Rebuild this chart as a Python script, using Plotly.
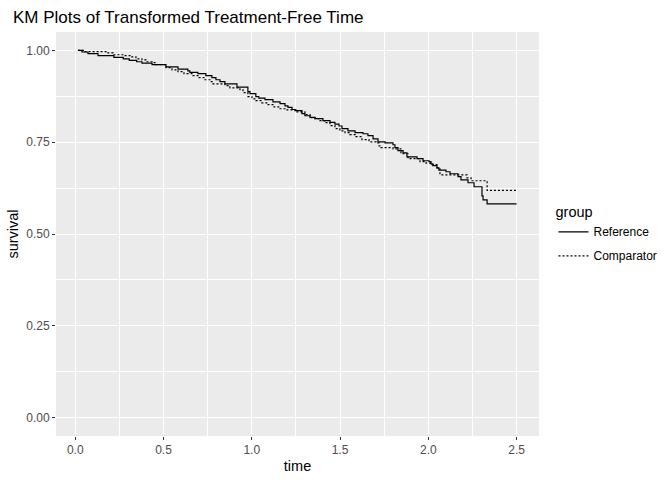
import plotly.graph_objects as go

# Reference group (step curve): time, survival
ref_time = [0.015, 0.038, 0.072, 0.129, 0.219, 0.272, 0.306, 0.348, 0.378, 0.435,
            0.514, 0.582, 0.638, 0.649, 0.695, 0.740, 0.774, 0.797, 0.820, 0.848,
            0.916, 0.978, 0.990, 1.023, 1.040, 1.075, 1.120, 1.160, 1.188, 1.205,
            1.228, 1.245, 1.284, 1.301, 1.330, 1.358, 1.403, 1.443, 1.471, 1.494,
            1.511, 1.545, 1.585, 1.630, 1.658, 1.687, 1.715, 1.755, 1.800, 1.811,
            1.828, 1.857, 1.879, 1.936, 1.970, 2.004, 2.015, 2.026, 2.049, 2.060,
            2.100, 2.123, 2.168, 2.185, 2.225, 2.259, 2.304, 2.310, 2.333, 2.500]
ref_surv = [1.000, 0.9956, 0.991, 0.9856, 0.981, 0.977, 0.973, 0.969, 0.965, 0.961,
            0.955, 0.949, 0.944, 0.940, 0.9365, 0.931, 0.926, 0.920, 0.915, 0.909,
            0.900, 0.8875, 0.882, 0.874, 0.870, 0.866, 0.860, 0.855, 0.849, 0.845,
            0.839, 0.836, 0.8275, 0.822, 0.8174, 0.814, 0.8085, 0.804, 0.799, 0.794,
            0.787, 0.781, 0.776, 0.773, 0.768, 0.759, 0.751, 0.748, 0.743, 0.735,
            0.727, 0.721, 0.710, 0.705, 0.6995, 0.697, 0.691, 0.686, 0.680, 0.674,
            0.6695, 0.664, 0.656, 0.6475, 0.6395, 0.6286, 0.604, 0.593, 0.582, 0.582]

# Comparator group (step curve): time, survival
cmp_time = [0.015, 0.055, 0.180, 0.214, 0.282, 0.310, 0.344, 0.378, 0.401, 0.435,
            0.457, 0.514, 0.548, 0.582, 0.616, 0.661, 0.695, 0.735, 0.763, 0.780,
            0.848, 0.876, 0.933, 0.950, 0.978, 1.001, 1.023, 1.057, 1.092, 1.126,
            1.160, 1.188, 1.250, 1.301, 1.330, 1.358, 1.386, 1.414, 1.443, 1.471,
            1.499, 1.528, 1.556, 1.590, 1.624, 1.664, 1.704, 1.721, 1.732, 1.800,
            1.845, 1.885, 1.953, 1.987, 2.015, 2.049, 2.066, 2.219, 2.242, 2.333, 2.500]
cmp_surv = [1.000, 0.9965, 0.993, 0.988, 0.9856, 0.982, 0.977, 0.974, 0.969, 0.9665,
            0.961, 0.953, 0.947, 0.942, 0.9365, 0.931, 0.9256, 0.920, 0.915, 0.909,
            0.904, 0.898, 0.893, 0.885, 0.874, 0.868, 0.863, 0.857, 0.852, 0.846,
            0.841, 0.838, 0.8325, 0.825, 0.817, 0.814, 0.8085, 0.803, 0.795, 0.787,
            0.781, 0.776, 0.7706, 0.765, 0.757, 0.751, 0.748, 0.740, 0.735, 0.732,
            0.7185, 0.705, 0.697, 0.693, 0.689, 0.680, 0.661, 0.653, 0.645, 0.619, 0.619]

x_ticks = [0.0, 0.5, 1.0, 1.5, 2.0, 2.5]
y_ticks = [0.00, 0.25, 0.50, 0.75, 1.00]

FONT = "Liberation Sans, Arial, sans-serif"

fig = go.Figure()
fig.add_trace(go.Scatter(x=ref_time, y=ref_surv, mode="lines", name="Reference",
                         legendgroup="a",
                         line=dict(color="black", width=1.2, shape="hv")))
fig.add_trace(go.Scatter(x=cmp_time, y=cmp_surv, mode="lines", name="Comparator",
                         legendgroup="b",
                         line=dict(color="black", width=1.2, shape="hv", dash="2px,2px")))

axis_common = dict(
    showgrid=True, gridcolor="white", gridwidth=1.1, zeroline=False,
    ticks="outside", ticklen=3, tickcolor="#333333", tickwidth=1,
    tickfont=dict(family=FONT, size=12, color="#4D4D4D"),
    showline=False, automargin=False,
)

fig.update_layout(
    width=672, height=480,
    paper_bgcolor="white", plot_bgcolor="#EBEBEB",
    margin=dict(l=56, r=133, t=32, b=44, autoexpand=False),
    font=dict(family=FONT, color="black"),
    title=dict(text="KM Plots of Transformed Treatment-Free Time",
               x=13 / 672, xanchor="left", xref="container",
               y=1 - 17 / 480, yanchor="middle", yref="container",
               font=dict(family=FONT, size=17, color="black")),
    xaxis=dict(range=[-0.109, 2.627], tickvals=x_ticks,
               ticktext=[f"{v:.1f}" for v in x_ticks],
               title=dict(text="time", standoff=4, font=dict(family=FONT, size=14.5)),
               minor=dict(showgrid=True, gridcolor="white", gridwidth=0.5,
                          tick0=0.25, dtick=0.5),
               **axis_common),
    yaxis=dict(range=[-0.05, 1.05], tickvals=y_ticks,
               ticktext=[f"{v:.2f}" for v in y_ticks],
               title=dict(text="survival", standoff=4, font=dict(family=FONT, size=14.5)),
               minor=dict(showgrid=True, gridcolor="white", gridwidth=0.5,
                          tick0=0.125, dtick=0.25),
               **axis_common),
    legend=dict(x=1.03, xanchor="left", y=0.588, yanchor="top",
                title=dict(text="group", font=dict(family=FONT, size=14.5)),
                font=dict(family=FONT, size=12, color="black"),
                bgcolor="white", tracegroupgap=5, itemwidth=30),
    showlegend=True,
)

fig.write_html("out.html", config={"displayModeBar": False},
               post_script="document.body.style.margin='0';document.body.style.overflow='hidden';")
